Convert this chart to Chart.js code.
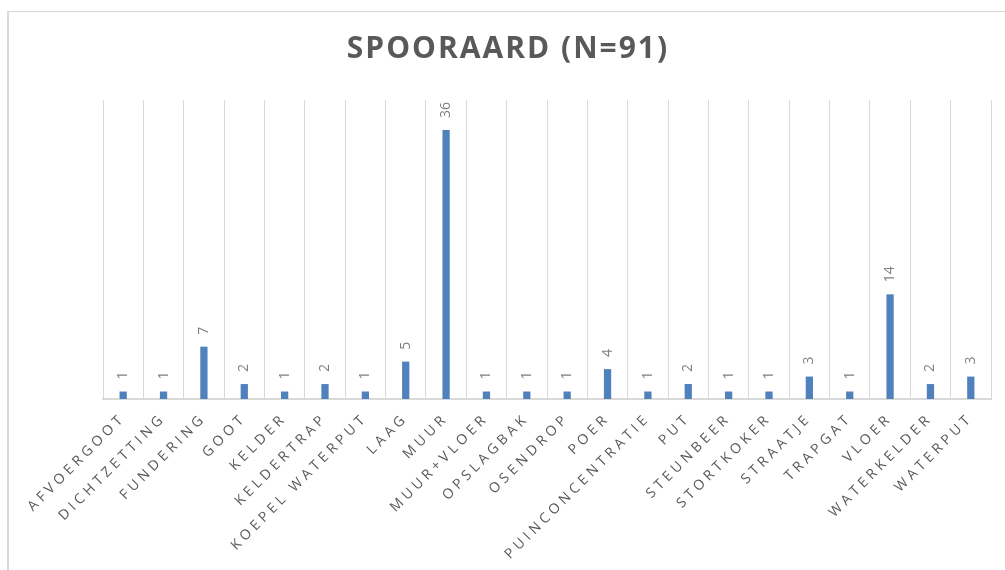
<!DOCTYPE html>
<html>
<head>
<meta charset="utf-8">
<script src="https://cdn.jsdelivr.net/npm/chart.js@4.4.1/dist/chart.umd.min.js"></script>
<style>
  html, body { margin: 0; padding: 0; background: #fff; }
  #wrap { position: relative; width: 1005px; height: 570px; overflow: hidden; }
  #frame {
    position: absolute; left: 7px; top: 11px; width: 1200px; height: 800px;
    border-left: 2px solid #d9d9d9; border-top: 1px solid #d9d9d9;
  }
  canvas { position: absolute; left: 0; top: 0; }
</style>
</head>
<body>
<div id="wrap">
  <div id="frame"></div>
  <canvas id="chart" width="1005" height="570"></canvas>
</div>
<script>
'use strict';

// ── Data ──────────────────────────────────────────────────────
const TITLE = 'SPOORAARD (N=91)';
const categories = [
  'AFVOERGOOT', 'DICHTZETTING', 'FUNDERING', 'GOOT', 'KELDER', 'KELDERTRAP',
  'KOEPEL WATERPUT', 'LAAG', 'MUUR', 'MUUR+VLOER', 'OPSLAGBAK', 'OSENDROP',
  'POER', 'PUINCONCENTRATIE', 'PUT', 'STEUNBEER', 'STORTKOKER', 'STRAATJE',
  'TRAPGAT', 'VLOER', 'WATERKELDER', 'WATERPUT'
];
const counts = [1, 1, 7, 2, 1, 2, 1, 5, 36, 1, 1, 1, 4, 1, 2, 1, 1, 3, 1, 14, 2, 3];

// ── Style ─────────────────────────────────────────────────────
const BAR_COLOR = '#4f81bd';
const GRID_COLOR = '#d9d9d9';
const TEXT_COLOR = '#595959';
const LABEL_COLOR = '#7f7f7f';
const FONT = "'Open Sans', 'Noto Sans', sans-serif";

// ── Plugins ───────────────────────────────────────────────────
// title is drawn with tighter spacing than the tick labels
const spacingPlugin = {
  id: 'spacing',
  beforeDraw(chart) { chart.ctx.letterSpacing = '2px'; },
  afterDatasetsDraw(chart) {
    const ctx = chart.ctx;
    const meta = chart.getDatasetMeta(0);
    ctx.save();
    ctx.letterSpacing = '0px';
    ctx.font = `14px ${FONT}`;
    ctx.fillStyle = LABEL_COLOR;
    ctx.textAlign = 'left';
    ctx.textBaseline = 'middle';
    meta.data.forEach((bar, i) => {
      ctx.save();
      ctx.translate(bar.x, bar.y - 12);
      ctx.rotate(-Math.PI / 2);
      ctx.fillText(String(counts[i]), 0, 0);
      ctx.restore();
    });
    ctx.restore();
    // tick labels are drawn after this (z: 1)
    ctx.letterSpacing = '4px';
  }
};

// ── Chart ─────────────────────────────────────────────────────
new Chart(document.getElementById('chart'), {
  type: 'bar',
  data: {
    labels: categories,
    datasets: [{
      data: counts,
      backgroundColor: BAR_COLOR,
      borderWidth: 0,
      categoryPercentage: 1,
      barPercentage: 0.18
    }]
  },
  options: {
    responsive: false,
    animation: false,
    devicePixelRatio: 1,
    layout: { padding: { left: 25, right: 14, top: 0, bottom: 0 } },
    plugins: {
      legend: { display: false },
      tooltip: { enabled: false },
      title: {
        display: true,
        text: TITLE,
        color: TEXT_COLOR,
        font: { family: FONT, size: 30, weight: 'bold', lineHeight: 1.2 },
        padding: { top: 31, bottom: 33 }
      }
    },
    scales: {
      x: {
        offset: true,
        grid: { display: true, offset: true, color: GRID_COLOR, lineWidth: 1, drawTicks: false },
        border: { display: true, color: GRID_COLOR, width: 2 },
        ticks: {
          z: 1,
          autoSkip: false,
          minRotation: 45,
          maxRotation: 45,
          padding: 11,
          color: TEXT_COLOR,
          font: { family: FONT, size: 14 }
        },
        afterFit(scale) { scale.height = 171; }
      },
      y: {
        display: true,
        min: 0,
        max: 40,
        grid: { display: false },
        border: { display: false },
        ticks: { display: false },
        afterFit(scale) { scale.width = 78; }
      }
    }
  },
  plugins: [spacingPlugin]
});
</script>
</body>
</html>
